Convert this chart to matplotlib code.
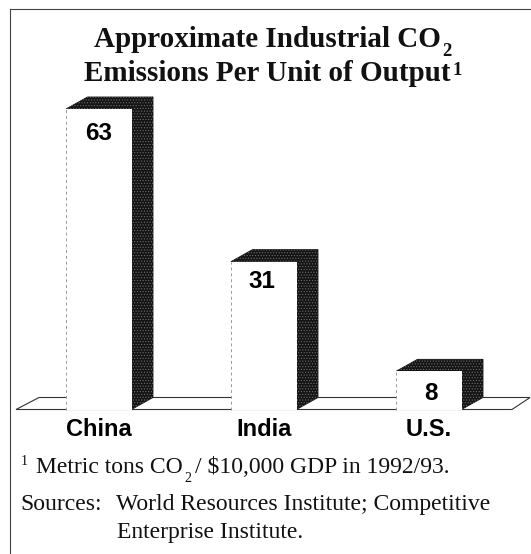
import matplotlib
matplotlib.use('Agg')
import matplotlib.pyplot as plt
from matplotlib.patches import Polygon

countries = ['China', 'India', 'U.S.']
emissions = [63, 31, 8]

W, H = 531, 554
BASE_PX = 409.5      # pixel row of value 0
PX_PER_UNIT = 4.77
BAR_W = 65.5
BAR_STEP = 165
DX, DY_PX = 21.5, 12
DY = DY_PX / PX_PER_UNIT

plt.rcParams['hatch.linewidth'] = 0.5

fig = plt.figure(figsize=(W / 100, H / 100), dpi=100)
ax = fig.add_axes([0, 0, 1, 1])
ax.set_xlim(0, W)
ax.set_ylim(-(H - BASE_PX) / PX_PER_UNIT, BASE_PX / PX_PER_UNIT)
ax.axis('off')


def fig_text(x, y, s, **kw):
    return fig.text(x / W, 1 - y / H, s, **kw)


def dark_face(points):
    ax.add_patch(Polygon(points, closed=True, fc='#141414', ec='#141414', lw=0.6, zorder=3))
    ax.add_patch(Polygon(points, closed=True, fc='none', ec='#6e6e6e', lw=0, hatch='......', zorder=3))


# frame, top and left only
fig.add_artist(plt.Line2D([10 / W, 1], [1 - 9 / H, 1 - 9 / H], color='#444444', lw=0.8))
fig.add_artist(plt.Line2D([10 / W, 10 / W], [1 - 9 / H, 0], color='#444444', lw=0.8))

# floor
ax.add_patch(Polygon([(16, 0), (39, DY), (530, DY), (512, 0)],
                     closed=True, fc='white', ec='#333333', lw=0.8, zorder=1))

# bars
number_x = [99, 262, 431]
number_y = [134, 281, 393]
for i, v in enumerate(emissions):
    x0 = 66 + i * BAR_STEP
    x1 = x0 + BAR_W
    dark_face([(x1, 0), (x1 + DX, DY), (x1 + DX, v + DY), (x1, v)])
    dark_face([(x0, v), (x0 + DX, v + DY), (x1 + DX, v + DY), (x1, v)])
    ax.bar(x0, v, width=BAR_W, align='edge', color='white', zorder=4)
    ax.plot([x0, x0], [0, v], color='#999999', lw=0.7, ls=(0, (3, 3)), zorder=5)
    t = fig_text(number_x[i], number_y[i], str(v), ha='center', va='center',
                 family='Liberation Sans', weight='bold', fontsize=17.5, zorder=6)
    fig_text(x0 + BAR_W / 2, 436, countries[i], ha='center', va='baseline',
             family='Liberation Sans', weight='bold', fontsize=17, zorder=6)

# title
title_kw = dict(family='Liberation Serif', weight='bold', fontsize=21, va='baseline', color='#111111')
fig_text(267.5, 47, 'Approximate Industrial CO', ha='center', **title_kw)
fig_text(267.5, 81, 'Emissions Per Unit of Output', ha='center', **title_kw)
small_title = dict(title_kw, fontsize=13.5)
fig_text(442, 56, '2', ha='left', **small_title)
fig_text(452.5, 75, '1', ha='left', **small_title)

# notes
note_kw = dict(family='Liberation Serif', fontsize=17, ha='left', va='baseline', color='#111111')
small_note = dict(note_kw, fontsize=10)
fig_text(21, 465, '1', **small_note)
fig_text(36, 473, 'Metric tons CO', **note_kw)
fig_text(184, 482, '2', **small_note)
fig_text(195, 473, '/ \\$10,000 GDP in 1992/93.', **note_kw)
fig_text(20, 510, 'Sources:', **note_kw)
fig_text(116, 510, 'World Resources Institute; Competitive', **note_kw)
fig_text(117, 538, 'Enterprise Institute.', **note_kw)

fig.savefig('out.png', dpi=100)
